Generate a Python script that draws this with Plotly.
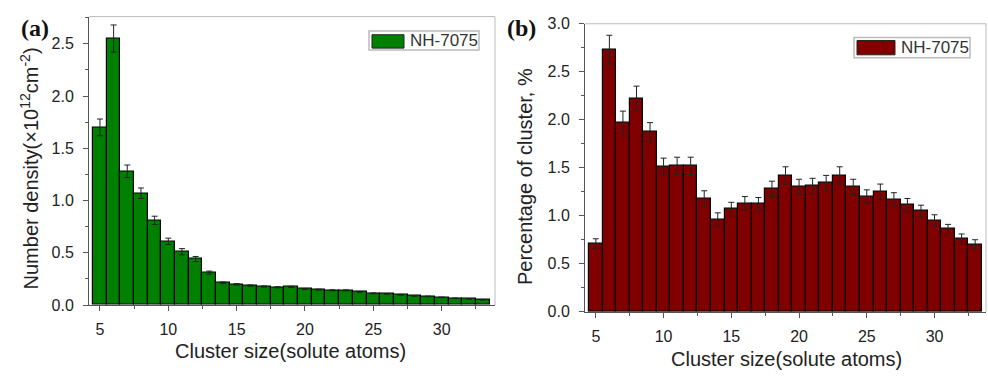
import plotly.graph_objects as go

# ---- data ----
cluster_size = list(range(5, 34))

density_a = [1.70, 2.55, 1.28, 1.07, 0.81, 0.61, 0.51, 0.44, 0.31, 0.213,
             0.198, 0.186, 0.177, 0.170, 0.174, 0.154, 0.147, 0.141, 0.140,
             0.126, 0.112, 0.107, 0.098, 0.087, 0.082, 0.073, 0.065, 0.058, 0.050]
density_err = [0.08, 0.13, 0.06, 0.05, 0.04, 0.03, 0.03, 0.025, 0.015, 0.008,
               0.007, 0.007, 0.006, 0.006, 0.006, 0.005, 0.005, 0.005, 0.005,
               0.005, 0.004, 0.004, 0.004, 0.004, 0.003, 0.003, 0.003, 0.003, 0.003]

percent_b = [0.71, 2.73, 1.97, 2.22, 1.87, 1.51, 1.52, 1.52, 1.18, 0.96,
             1.07, 1.13, 1.12, 1.28, 1.42, 1.30, 1.31, 1.34, 1.42, 1.30,
             1.20, 1.25, 1.17, 1.11, 1.05, 0.95, 0.86, 0.76, 0.70]
percent_err = [0.05, 0.15, 0.12, 0.13, 0.10, 0.09, 0.09, 0.09, 0.08, 0.07,
               0.07, 0.07, 0.07, 0.08, 0.09, 0.08, 0.08, 0.08, 0.09, 0.08,
               0.07, 0.08, 0.07, 0.07, 0.06, 0.06, 0.05, 0.05, 0.05]

series_name = "NH-7075"
x_title = "Cluster size(solute atoms)"
y_title_a = "Number density(×10<sup>12</sup>cm<sup>-2</sup>)"
y_title_b = "Percentage of cluster, %"

FONT = "Arial, Liberation Sans, sans-serif"
SERIF = "Times New Roman, Liberation Serif, serif"
GREEN = "#008000"
RED = "#800000"

fig = go.Figure()
fig.add_trace(go.Bar(
    x=cluster_size, y=density_a, name=series_name, width=1, showlegend=False,
    marker=dict(color=GREEN, line=dict(color="black", width=1.2)),
    error_y=dict(type="data", array=density_err, color="#222222", thickness=1, width=3),
    xaxis="x", yaxis="y"))
fig.add_trace(go.Bar(
    x=cluster_size, y=percent_b, name=series_name, width=1, showlegend=False,
    marker=dict(color=RED, line=dict(color="black", width=1.2)),
    error_y=dict(type="data", array=percent_err, color="#222222", thickness=1, width=3),
    xaxis="x2", yaxis="y2"))

W, H = 988, 379
def px_x(p): return p / W
def px_y(p): return 1 - p / H

axis_common = dict(
    showgrid=False, zeroline=False, showline=True, linecolor="#555555", linewidth=1,
    ticks="outside", ticklen=5, tickwidth=1, tickcolor="#555555",
    tickfont=dict(family=FONT, size=16, color="#222222"),
    minor=dict(ticks="outside", ticklen=3, tickwidth=1, tickcolor="#555555"),
)

fig.update_layout(
    width=W, height=H, margin=dict(l=0, r=0, t=0, b=0),
    paper_bgcolor="white", plot_bgcolor="white",
    bargap=0, showlegend=False,
    font=dict(family=FONT, color="#222222"),
    xaxis=dict(domain=[px_x(89), px_x(495)], range=[4.2, 33.9], anchor="y",
               tickvals=[5, 10, 15, 20, 25, 30], minor_dtick=2.5,
               ticklabelstandoff=5, **axis_common),
    yaxis=dict(domain=[px_y(311), px_y(9)], range=[0, 2.76], anchor="x",
               dtick=0.5, tickformat=".1f", minor_dtick=0.25,
               ticklabelstandoff=6, **axis_common),
    xaxis2=dict(domain=[px_x(585), px_x(986)], range=[4.2, 33.8], anchor="y2",
                tickvals=[5, 10, 15, 20, 25, 30], minor_dtick=2.5,
                ticklabelstandoff=5, **axis_common),
    yaxis2=dict(domain=[px_y(318), px_y(16.5)], range=[0, 3.0], anchor="x2",
                dtick=0.5, tickformat=".1f", minor_dtick=0.25,
                ticklabelstandoff=6, **axis_common),
)

# light grey top/right frame lines
for xr, yr in (("x domain", "y domain"), ("x2 domain", "y2 domain")):
    fig.add_shape(type="line", xref=xr, yref=yr, x0=0, x1=1, y0=1, y1=1,
                  line=dict(color="#bbbbbb", width=1))
    fig.add_shape(type="line", xref=xr, yref=yr, x0=1, x1=1, y0=0, y1=1,
                  line=dict(color="#bbbbbb", width=1))

# legends (box + swatch + text), drawn in pixel-based paper coordinates
legends = [
    dict(box=(369, 24, 479, 44), sw=(372, 28, 404, 42), tx=408, ty=34.5, color=GREEN),
    dict(box=(854, 31, 970, 52), sw=(857, 34, 895, 49), tx=899, ty=41.5, color=RED),
]
for lg in legends:
    bx0, by0, bx1, by1 = lg["box"]
    fig.add_shape(type="rect", xref="paper", yref="paper",
                  x0=px_x(bx0), x1=px_x(bx1), y0=px_y(by1), y1=px_y(by0),
                  line=dict(color="#bbbbbb", width=1.5), fillcolor="white")
    sx0, sy0, sx1, sy1 = lg["sw"]
    fig.add_shape(type="rect", xref="paper", yref="paper",
                  x0=px_x(sx0), x1=px_x(sx1), y0=px_y(sy1), y1=px_y(sy0),
                  line=dict(color="#222222", width=1), fillcolor=lg["color"])
    fig.add_annotation(xref="paper", yref="paper", x=px_x(lg["tx"]), y=px_y(lg["ty"]),
                       xanchor="left", yanchor="middle", showarrow=False,
                       text=series_name, font=dict(family=FONT, size=17, color="#333333"))

annos = [
    dict(text=x_title, x=px_x(290), y=px_y(359), font=dict(size=20)),
    dict(text=x_title, x=px_x(786), y=px_y(368), font=dict(size=20)),
    dict(text=y_title_a, x=px_x(29), y=px_y(168), textangle=-90, font=dict(size=20)),
    dict(text=y_title_b, x=px_x(525), y=px_y(177), textangle=-90, font=dict(size=20)),
    dict(text="<b>(a)</b>", x=px_x(35), y=px_y(21),
         font=dict(size=24, family=SERIF, color="#111111")),
    dict(text="<b>(b)</b>", x=px_x(521), y=px_y(21),
         font=dict(size=24, family=SERIF, color="#111111")),
]
for a in annos:
    a["font"].setdefault("family", FONT)
    a["font"].setdefault("color", "#222222")
    fig.add_annotation(xref="paper", yref="paper", xanchor="center", yanchor="middle",
                       showarrow=False, **a)

fig.write_html("out.html")
